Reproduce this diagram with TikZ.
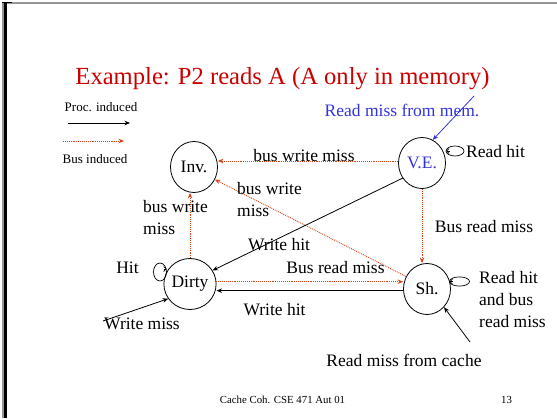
\documentclass[tikz,border=0pt]{standalone}
\usepackage{fontspec}
\setmainfont{Liberation Serif}
\usetikzlibrary{shapes.geometric,arrows.meta}
\definecolor{titlered}{RGB}{204,0,0}
\definecolor{busred}{RGB}{222,64,20}
\definecolor{myblue}{RGB}{51,51,221}
\definecolor{framegray}{RGB}{150,150,150}
\tikzset{
  stbox/.style={draw, ellipse, minimum width=47pt, minimum height=51pt, inner sep=0pt, line width=0.8pt,
    font=\fontsize{17.5}{21}\selectfont},
  lbl/.style={font=\fontsize{17.5}{22}\selectfont, anchor=base, inner sep=0pt},
  lblml/.style={font=\fontsize{17.5}{22}\selectfont, align=left, anchor=base west, inner sep=0pt},
  small/.style={font=\fontsize{13}{15}\selectfont, anchor=base, inner sep=0pt},
  foot/.style={font=\fontsize{10.8}{12}\selectfont, anchor=base, inner sep=0pt},
  tip/.style={-{Stealth[length=5.5pt,width=4.5pt]}},
  bus/.style={draw=busred, densely dotted, line width=0.9pt, tip},
  proc/.style={draw=black, line width=0.8pt, tip},
  bluearr/.style={draw=myblue, line width=0.8pt, tip},
  loopst/.style={draw=black, line width=0.7pt},
  barb/.style={draw=black, line width=0.7pt, -{Straight Barb[length=2.5pt,width=5pt]}}
}
\begin{document}
\begin{tikzpicture}[x=1pt,y=-1pt]
\useasboundingbox (0,0) rectangle (557,418);
\fill[white] (0,0) rectangle (557,418);
% slide frame
\draw[framegray, line width=2.2pt] (2,3.2) -- (557,3.2);
\draw[framegray, line width=1.5pt] (2.8,2) -- (2.8,418);
\draw[black, line width=2.6pt] (5.2,2.2) -- (5.2,418);
\draw[black, line width=1.2pt] (2,2.4) -- (12,2.4);

% title
\node[font=\fontsize{24.6}{28}\selectfont, text=titlered, anchor=base, inner sep=0pt] (title) at (282.5,84) {Example: P2 reads A (A only in memory)};

% legend
\node[small] (lproc) at (101,111) {Proc. induced};
\coordinate (lpa) at (68,123);
\coordinate (lpb) at (130,123);
\draw[proc] (lpa) -- (lpb);
\coordinate (lba) at (63,141);
\coordinate (lbb) at (124,141);
\draw[bus] (lba) -- (lbb);
\node[small] (lbus) at (95,163) {Bus induced};

% states
\node[stbox] (inv) at (194,167) {Inv.};
\node[stbox, text=myblue] (ve) at (422,163) {V.E.};
\node[stbox] (dirty) at (190,284) {Dirty};
\node[stbox] (sh) at (427,289) {Sh.};

% transitions
\draw[bus] (ve.west) ++(0,-2) coordinate (vew) -- (vew -| inv.east);
\node[lbl] (l1) at (304,161) {bus write miss};

\draw[bus] (sh.149) -- (inv.-31);
\node[lblml] (l2) at (237,216) {bus write\\miss};

\draw[bus] (dirty.north) -- (dirty.north |- inv.south);
\node[lblml] (l3) at (143,234) {bus write\\miss};

\draw[bus] (ve.south) -- (ve.south |- sh.north);
\node[lbl] (l4) at (484,232) {Bus read miss};

\draw[proc] (ve.218) -- (dirty.31);
\node[lbl] (l5) at (279,250) {Write hit};

\draw[bus] (dirty.5) -- (dirty.5 -| sh.west);
\node[lbl] (l6) at (335.5,273) {Bus read miss};

\draw[proc] (sh.184) -- (sh.184 -| dirty.east);
\node[lbl] (l7) at (274.5,315) {Write hit};

% self loops
\draw[loopst] (455,151) ellipse [x radius=9, y radius=5];
\draw[barb] (449.5,151) -- (446.2,151);
\node[lbl] (l8) at (495.5,157) {Read hit};

\draw[loopst] (459.5,281.5) ellipse [x radius=10, y radius=4.6];
\draw[barb] (453,281.5) -- (449.5,281.5);
\node[lblml] (l9) at (479,327) {Read hit\\and bus\\read miss};

\draw[loopst] (160,272) ellipse [x radius=6.5, y radius=9];
\draw[barb] (163.5,269) -- (166.5,269);
\node[lbl] (l10) at (127.5,273) {Hit};

% external arrows
\coordinate (wm) at (103,321);
\draw[proc] (wm) -- (dirty.214);
\node[lbl] (l11) at (142,329) {Write miss};

\coordinate (rmc) at (470,342);
\draw[proc] (rmc) -- (sh.-47);
\node[lbl] (l12) at (404,366) {Read miss from cache};

\coordinate (rmm) at (474,96);
\draw[bluearr] (rmm) -- (ve.65);
\node[lbl, text=myblue] (l13) at (402,116) {Read miss from mem.};

% footer
\node[foot] (f1) at (282.5,403) {Cache Coh. CSE 471 Aut 01};
\node[foot] (f2) at (506.5,403) {13};
\end{tikzpicture}
\end{document}
